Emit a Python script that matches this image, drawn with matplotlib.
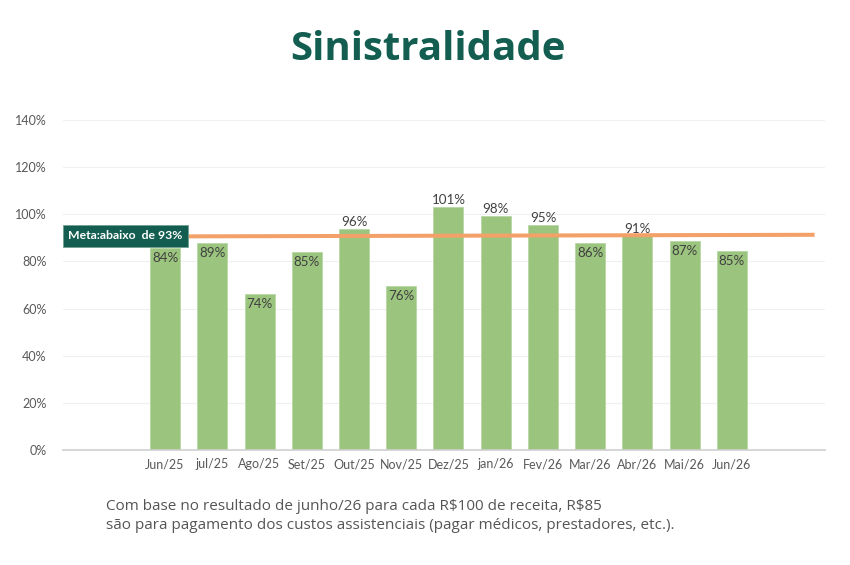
import matplotlib
matplotlib.use("Agg")
import matplotlib.pyplot as plt
import numpy as np

# data
months = ["Jun/25", "jul/25", "Ago/25", "Set/25", "Out/25", "Nov/25", "Dez/25",
          "jan/26", "Fev/26", "Mar/26", "Abr/26", "Mai/26", "Jun/26"]
bar_heights = [85.7, 87.8, 66.2, 84.0, 93.8, 69.6, 103.0,
               99.3, 95.5, 87.8, 90.8, 88.7, 84.4]
value_labels = ["84%", "89%", "74%", "85%", "96%", "76%", "101%",
                "98%", "95%", "86%", "91%", "87%", "85%"]
label_inside = [True, True, True, True, False, True, False,
                False, False, True, False, True, True]
meta_text = "Meta:abaixo  de 93%"
meta_line = [90.5, 91.3]  # orange line, left/right ends
y_ticks = [0, 20, 40, 60, 80, 100, 120, 140]

title = "Sinistralidade"
note = ("Com base no resultado de junho/26 para cada R\\$100 de receita, R\\$85\n"
        "são para pagamento dos custos assistenciais (pagar médicos, prestadores, etc.).")

GREEN_DARK = "#135e50"
BAR = "#9bc47e"
ORANGE = "#f3a168"
TXT = "#404040"
TICK = "#595959"

W, H = 850, 565
fig = plt.figure(figsize=(W / 100, H / 100), dpi=100)
ax = fig.add_axes([63 / W, 1 - 450 / H, (825 - 63) / W, 330 / H])

x = np.arange(len(months))
ax.bar(x, bar_heights, width=0.635, color=BAR, edgecolor="#b8d8a4",
       linewidth=0.6, zorder=2)

ax.set_xlim(-2.16, 13.97)
ax.set_ylim(0, 140)
ax.set_yticks(y_ticks)
ax.set_yticklabels([f"{t}%" for t in y_ticks])
ax.set_xticks(x)
ax.set_xticklabels(months)
ax.tick_params(axis="both", length=0, labelsize=9, colors=TICK)
ax.tick_params(axis="y", pad=12)
ax.tick_params(axis="x", pad=6)
for lab in ax.get_xticklabels() + ax.get_yticklabels():
    lab.set_fontfamily("Lato")

for s in ["top", "right", "left"]:
    ax.spines[s].set_visible(False)
ax.spines["bottom"].set_color("#d0d0d0")
ax.spines["bottom"].set_linewidth(1.2)
ax.grid(axis="y", color="#f0f0f0", linewidth=0.8, zorder=0)
ax.set_axisbelow(True)

for xi, h, lab, inside in zip(x, bar_heights, value_labels, label_inside):
    dy = -7.5 if inside else 5
    ax.annotate(lab, (xi, h), xytext=(0, dy), textcoords="offset points",
                ha="center", va="center", fontsize=9.6, color=TXT,
                family="Lato", zorder=4)

# meta line + label box
ax.plot([-2.16, 13.75], meta_line, color=ORANGE, linewidth=2.9,
        solid_capstyle="butt", zorder=3)
ax.text(-2.05, 91.0, meta_text, ha="left", va="center", fontsize=8.8,
        color="white", fontweight="bold", family="Lato", zorder=5,
        bbox=dict(boxstyle="square,pad=0.45", fc=GREEN_DARK, ec="#6f9f92",
                  lw=0.6))

fig.text(0.503, 1 - 50 / H, title, ha="center", va="center", fontsize=29,
         fontweight="bold", color=GREEN_DARK, family="Open Sans")
fig.text(106 / W, 1 - 516 / H, note, ha="left", va="center", fontsize=11,
         color="#555555", family="Open Sans", linespacing=1.4)

fig.savefig("out.png", dpi=100, facecolor="white")
